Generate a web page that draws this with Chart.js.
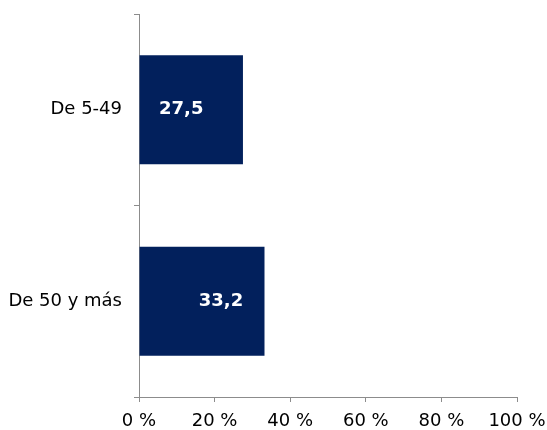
<!DOCTYPE html>
<html>
<head>
<meta charset="utf-8">
<script src="https://cdn.jsdelivr.net/npm/chart.js@4.4.1/dist/chart.umd.min.js"></script>
<style>
  html, body { margin: 0; padding: 0; background: #ffffff; overflow: hidden; }
  #wrap { position: relative; width: 547px; height: 430px; }
</style>
</head>
<body>
<div id="wrap"><canvas id="chartSize"></canvas></div>
<script>
// Share by company size, in percent
const categories = ["De 5-49", "De 50 y más"];
const shares = [27.5, 33.2];
const xTicks = [0, 20, 40, 60, 80, 100];

const BAR_COLOR = "#02205c";
const AXIS_COLOR = "#8c8c8c";
const FONT = "'DejaVu Sans', Verdana, sans-serif";

// Value labels inside the bars, written with a decimal comma
const barLabels = {
  id: "barLabels",
  afterDatasetsDraw(chart) {
    const ctx = chart.ctx;
    const meta = chart.getDatasetMeta(0);
    const shift = [-10, 19];
    ctx.save();
    ctx.fillStyle = "#ffffff";
    ctx.font = "bold 18px " + FONT;
    ctx.textAlign = "center";
    ctx.textBaseline = "middle";
    meta.data.forEach((bar, i) => {
      const mid = (bar.base + bar.x) / 2;
      ctx.fillText(shares[i].toFixed(1).replace(".", ","), mid + shift[i], bar.y);
    });
    ctx.restore();
  }
};

new Chart(document.getElementById("chartSize"), {
  type: "bar",
  data: {
    labels: categories,
    datasets: [{
      data: shares,
      backgroundColor: BAR_COLOR,
      borderWidth: 0,
      categoryPercentage: 1,
      barPercentage: 0.57
    }]
  },
  plugins: [barLabels],
  options: {
    indexAxis: "y",
    responsive: true,
    maintainAspectRatio: false,
    animation: false,
    layout: { padding: { top: 14, right: 30, left: 0, bottom: 0 } },
    plugins: { legend: { display: false }, tooltip: { enabled: false } },
    scales: {
      x: {
        min: 0,
        max: 100,
        afterBuildTicks(scale) {
          scale.ticks = xTicks.map(v => ({ value: v }));
        },
        afterFit(scale) {
          scale.height = 33;
          scale.paddingLeft = 0;
          scale.paddingRight = 0;
        },
        grid: { drawOnChartArea: false, drawTicks: true, tickLength: 5, color: AXIS_COLOR },
        border: { color: AXIS_COLOR, width: 1 },
        ticks: {
          color: "#000000",
          font: { family: FONT, size: 18 },
          padding: 9,
          maxRotation: 0,
          callback: v => v + " %"
        }
      },
      y: {
        afterFit(scale) {
          scale.width = 139;
          scale.paddingTop = 0;
          scale.paddingBottom = 0;
        },
        grid: { offset: true, drawOnChartArea: false, drawTicks: true, tickLength: 5, color: AXIS_COLOR },
        border: { color: AXIS_COLOR, width: 1 },
        ticks: {
          color: "#000000",
          font: { family: FONT, size: 18 },
          padding: 12
        }
      }
    }
  }
});
</script>
</body>
</html>
